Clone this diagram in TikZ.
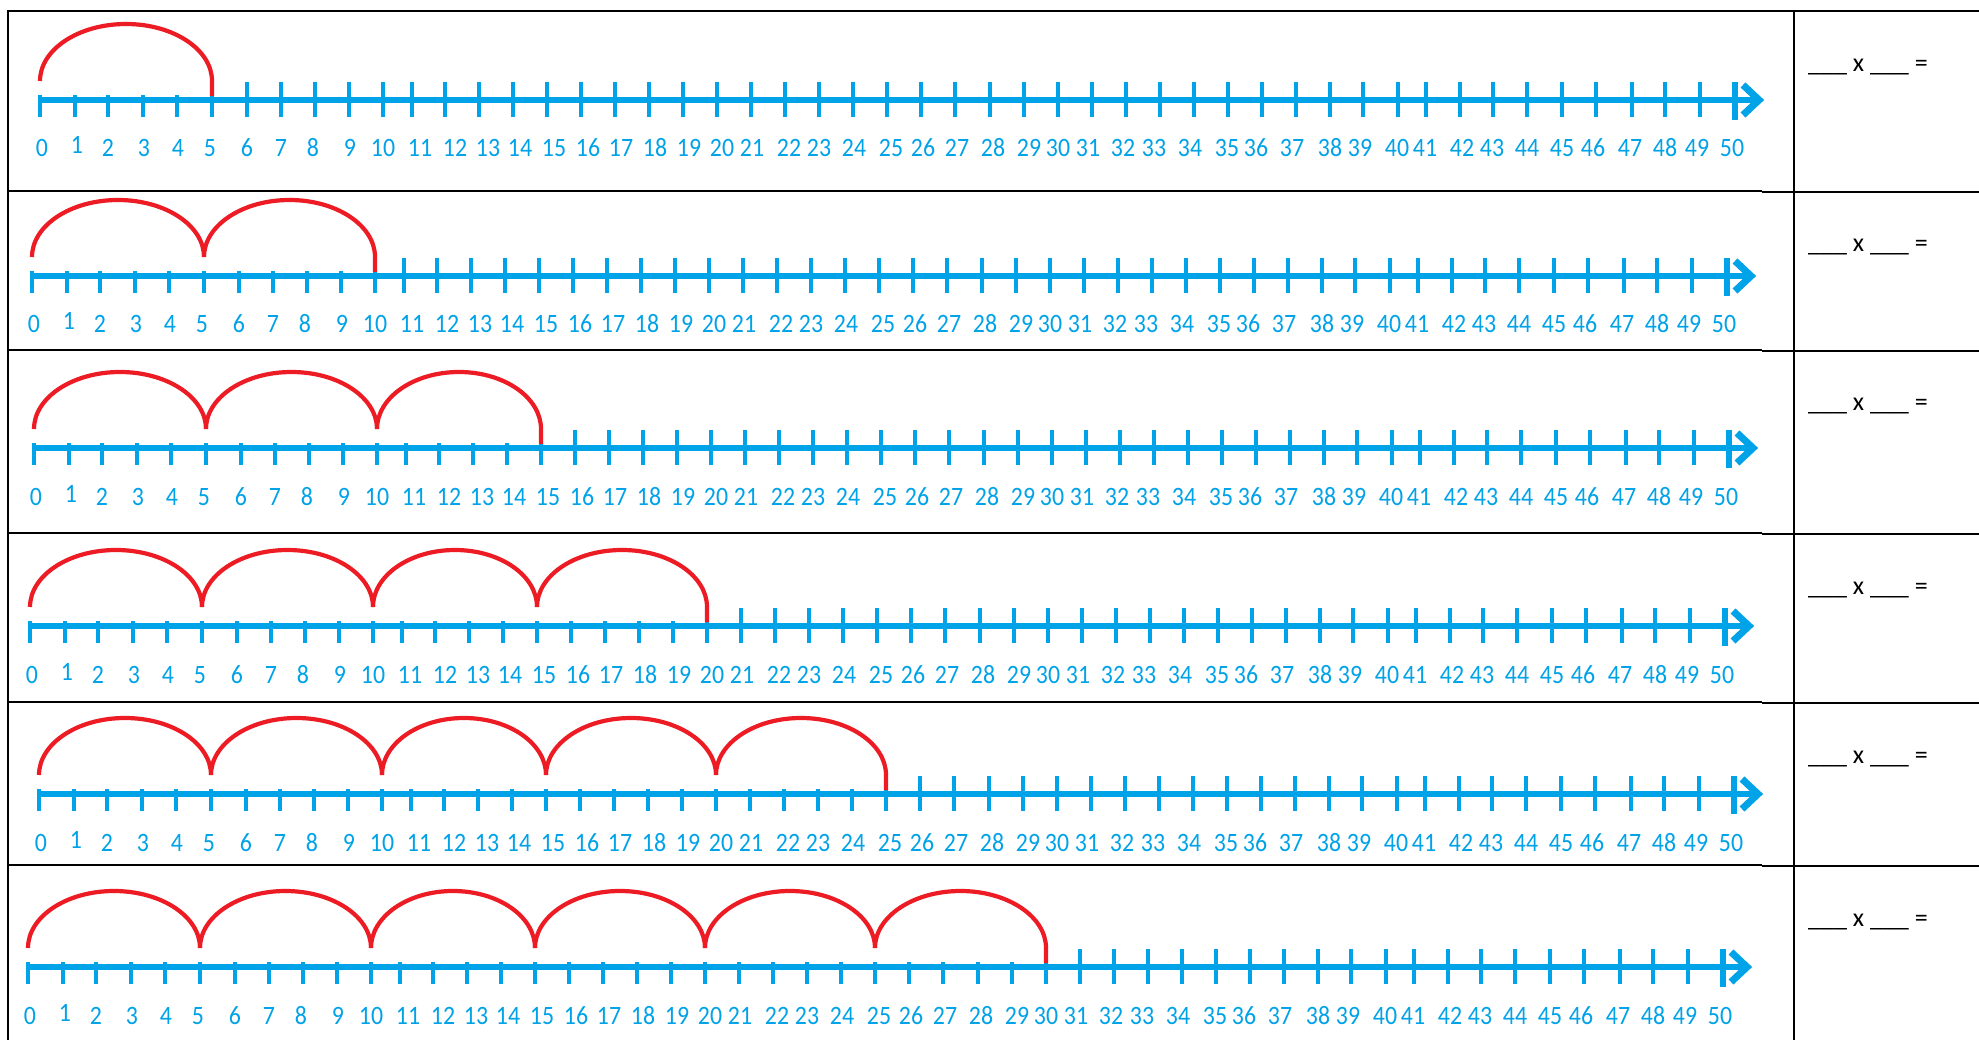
\documentclass[tikz,border=0pt]{standalone}
\usepackage{fontspec}
\setmainfont{Carlito}
\newfontfamily\labfont[FakeStretch=0.9]{Carlito}
\definecolor{nlblue}{HTML}{00A2E8}
\definecolor{arcred}{HTML}{ED1C24}
\def\ticklist{0/40/42,1/75/77,2/108/108,3/143/144,4/177/178,5/212/210,6/247/247,7/281/281,8/315/313,9/349/350,10/383/383,11/412/420,12/445/455,13/479/488,14/513/520,15/547/554,16/581/588,17/615/621,18/649/655,19/683/689,20/717/722,21/751/752,22/785/789,23/819/819,24/853/854,25/887/891,26/921/923,27/955/957,28/990/993,29/1024/1029,30/1058/1058,31/1092/1088,32/1126/1123,33/1160/1154,34/1194/1190,35/1228/1227,36/1262/1256,37/1296/1292,38/1330/1330,39/1363/1360,40/1398/1397,41/1426/1425,42/1460/1462,43/1493/1492,44/1527/1527,45/1562/1562,46/1596/1593,47/1632/1630,48/1665/1665,49/1700/1697,50/1735/1732}
\newcommand\numline[4]{%
  \begin{scope}[shift={(#1,-#2)}]
    \draw[axisline] (40,0) -- (1756,0);
    \foreach \k/\t/\l in \ticklist {%
      \ifnum\k>\numexpr5*#3\relax
        \draw[tickline] (\t,18) -- (\t,-17);
      \else
        \draw[tickline] (\t,5) -- (\t,-17);
      \fi
      \ifnum\k=1
        \node[numlab] (r#4n\k) at (\l,-54) {\k};
      \else
        \node[numlab] (r#4n\k) at (\l,-57) {\k};
      \fi
    }
    \draw[tickline, line width=5.5pt] (1735,18) -- (1735,-20);
    \draw[axisline, line width=7pt, line join=miter] (1743,15) -- (1759,0) -- (1743,-15);
    \foreach \a/\b [count=\i] in {40/212,212/383,383/547,547/717,717/887,887/1058} {%
      \ifnum\i<#3
        \draw[jump] (\a,19) arc[start angle=180, end angle=0, x radius={(\b-\a)/2}, y radius=57];
      \else\ifnum\i=#3
        \draw[jump] (\a,19) arc[start angle=180, end angle=0, x radius={(\b-\a)/2}, y radius=57] -- ++(0,-15);
      \fi\fi
    }
  \end{scope}}
\begin{document}
\begin{tikzpicture}[x=1pt,y=1pt,
  axisline/.style={nlblue, line width=6.5pt},
  tickline/.style={nlblue, line width=4pt},
  jump/.style={arcred, line width=4.2pt},
  numlab/.style={text=nlblue, font=\labfont\fontsize{26.5}{28}\selectfont, anchor=base, inner sep=0pt},
  rulethin/.style={black, line width=1.8pt},
  rulethick/.style={black, line width=2.6pt},
  eqn/.style={font=\fontsize{26}{28}\selectfont, anchor=base west, inner sep=0pt}]
\useasboundingbox (0,0) rectangle (1979,-1040);
\fill[white] (0,0) rectangle (1979,-1040);
% table frame
\draw[rulethick] (7,-11) -- (1979,-11);
\draw[rulethick] (8,-11) -- (8,-1040);
\draw[rulethick] (1794,-11) -- (1794,-1040);
\foreach \y in {191,350,533,702,865} {
  \draw[rulethin] (8,-\y) -- (1762,-\y);
  \draw[rulethick] (1762,-\y-1) -- (1979,-\y-1);
}
% number lines
\numline{0}{100}{1}{a}
\numline{-8}{276}{2}{b}
\numline{-6}{448}{3}{c}
\numline{-10}{626}{4}{d}
\numline{-1}{794}{5}{e}
\numline{-12}{967}{6}{f}
% equations
\node[eqn] (eq1) at (1808,-72) {\_\_\_ x \_\_\_ =};
\node[eqn] (eq2) at (1808,-252) {\_\_\_ x \_\_\_ =};
\node[eqn] (eq3) at (1808,-411) {\_\_\_ x \_\_\_ =};
\node[eqn] (eq4) at (1808,-594) {\_\_\_ x \_\_\_ =};
\node[eqn] (eq5) at (1808,-763) {\_\_\_ x \_\_\_ =};
\node[eqn] (eq6) at (1808,-926) {\_\_\_ x \_\_\_ =};
\end{tikzpicture}
\end{document}
